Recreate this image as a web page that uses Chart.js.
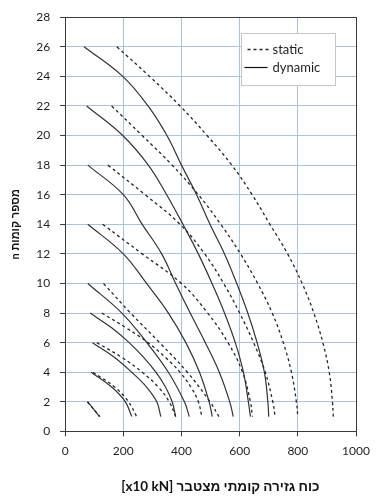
<!DOCTYPE html>
<html>
<head>
<meta charset="utf-8">
<script src="https://cdn.jsdelivr.net/npm/chart.js@4.4.1/dist/chart.umd.min.js"></script>
<style>
  html, body { margin: 0; padding: 0; background: #fff; }
</style>
</head>
<body>
<canvas id="shearChart" width="389" height="503"></canvas>
<script>
// story numbers (y) for each building height n
const levels2  = [2, 1];
const levels4  = [4, 3, 2, 1];
const levels6  = [6, 5, 4, 3, 2, 1];
const levels8  = [8, 7, 6, 5, 4, 3, 2, 1];
const levels10 = [10, 8, 6, 4, 2, 1];
const levels14 = [14, 12, 10, 8, 6, 4, 2, 1];
const levels18 = [18, 16, 14, 12, 10, 8, 6, 4, 2, 1];
const levels22 = [22, 20, 18, 16, 14, 12, 10, 8, 6, 4, 2, 1];
const levels26 = [26, 24, 22, 20, 18, 16, 14, 12, 10, 8, 6, 4, 2, 1];

// cumulative story shear [x10 kN], static analysis
const static2  = [76, 120];
const static4  = [96, 170, 218, 246];
const static6  = [109, 195, 265, 320, 358, 380];
const static8  = [126, 210, 285, 345, 395, 432, 458, 470];
const static10 = [132, 225, 325, 420, 498, 529];
const static14 = [129, 265, 400, 490, 560, 610, 637, 644];
const static18 = [147, 275, 395, 480, 545, 600, 648, 688, 714, 722];
const static22 = [160, 265, 368, 458, 535, 603, 662, 712, 750, 778, 795, 800];
const static26 = [178, 290, 395, 488, 573, 643, 704, 765, 815, 855, 886, 908, 919, 922];

// cumulative story shear [x10 kN], dynamic analysis
const dynamic2  = [78, 118];
const dynamic4  = [89, 160, 207, 229];
const dynamic6  = [94, 170, 229, 280, 315, 329];
const dynamic8  = [86, 160, 220, 270, 312, 345, 368, 380];
const dynamic10 = [78, 195, 281, 355, 410, 427];
const dynamic14 = [78, 200, 280, 355, 415, 462, 495, 506];
const dynamic18 = [78, 200, 265, 332, 380, 430, 482, 530, 566, 578];
const dynamic22 = [74, 198, 286, 349, 405, 458, 505, 548, 585, 613, 630, 637];
const dynamic26 = [65, 198, 285, 350, 400, 452, 498, 548, 590, 628, 660, 685, 697, 700];

const xTitle = 'כוח גזירה קומתי מצטבר [x10 kN]';
const yTitle = 'מספר קומות n';

const staticSeries  = [static2, static4, static6, static8, static10, static14, static18, static22, static26];
const dynamicSeries = [dynamic2, dynamic4, dynamic6, dynamic8, dynamic10, dynamic14, dynamic18, dynamic22, dynamic26];
const levelSets     = [levels2, levels4, levels6, levels8, levels10, levels14, levels18, levels22, levels26];

const gridColor = '#a9c1e3';
const axisColor = '#3a3a3a';
const fontFamily = 'Lato, "Liberation Sans", sans-serif';

function toPoints(xs, ys) {
    return xs.map((v, i) => ({ x: v, y: ys[i] }));
}

const datasets = [];
levelSets.forEach((levels, i) => {
    datasets.push({
        label: 'static',
        data: toPoints(staticSeries[i], levels),
        borderColor: '#262626',
        borderWidth: 1.3,
        borderDash: [3, 3],
        pointRadius: 0,
        tension: 0.4,
        showLine: true
    });
    datasets.push({
        label: 'dynamic',
        data: toPoints(dynamicSeries[i], levels),
        borderColor: '#333333',
        borderWidth: 1.2,
        pointRadius: 0,
        tension: 0.4,
        showLine: true
    });
});

// frame around the plot area (top and right edges are dark too)
const plotFrame = {
    id: 'plotFrame',
    afterDatasetsDraw(chart) {
        const { ctx, chartArea: a } = chart;
        ctx.save();
        ctx.strokeStyle = axisColor;
        ctx.lineWidth = 1;
        ctx.strokeRect(Math.round(a.left) + 0.5, Math.round(a.top) + 0.5,
                       Math.round(a.right - a.left), Math.round(a.bottom - a.top));
        ctx.restore();
    }
};

// legend box drawn inside the plot, upper right
const boxLegend = {
    id: 'boxLegend',
    afterDraw(chart) {
        const { ctx } = chart;
        const sx = chart.scales.x, sy = chart.scales.y;
        const left = Math.round(sx.getPixelForValue(605)) + 0.5;
        const right = Math.round(sx.getPixelForValue(928)) + 0.5;
        const top = Math.round(sy.getPixelForValue(26.9)) + 0.5;
        const bottom = Math.round(sy.getPixelForValue(23.4)) + 0.5;
        ctx.save();
        ctx.fillStyle = '#ffffff';
        ctx.fillRect(left, top, right - left, bottom - top);
        ctx.strokeStyle = '#c6c6c6';
        ctx.lineWidth = 1;
        ctx.strokeRect(left, top, right - left, bottom - top);

        const row1 = top + 16, row2 = top + 34;
        ctx.strokeStyle = '#262626';
        ctx.lineWidth = 1.3;
        ctx.setLineDash([3, 3]);
        ctx.beginPath();
        ctx.moveTo(left + 6, row1);
        ctx.lineTo(left + 27, row1);
        ctx.stroke();
        ctx.setLineDash([]);
        ctx.strokeStyle = '#111';
        ctx.lineWidth = 1.2;
        ctx.beginPath();
        ctx.moveTo(left + 3, row2);
        ctx.lineTo(left + 26, row2);
        ctx.stroke();

        ctx.fillStyle = '#1f1f1f';
        ctx.font = '13px ' + fontFamily;
        ctx.textAlign = 'left';
        ctx.textBaseline = 'middle';
        ctx.fillText('static', left + 31, row1);
        ctx.fillText('dynamic', left + 31, row2);
        ctx.restore();
    }
};

// the printed x title sits a little right of the plot centre
const xTitleShift = '\u00A0'.repeat(6);

const ctx = document.getElementById('shearChart').getContext('2d');
new Chart(ctx, {
    type: 'scatter',
    data: { datasets: datasets },
    options: {
        responsive: false,
        animation: false,
        layout: { padding: { top: 8, right: 33, bottom: 8, left: 9 } },
        plugins: {
            legend: { display: false },
            tooltip: { enabled: false }
        },
        scales: {
            x: {
                type: 'linear',
                min: 0,
                max: 1000,
                ticks: {
                    stepSize: 200,
                    color: '#1f1f1f',
                    padding: 8,
                    font: { family: fontFamily, size: 12 },
                    callback: (v) => String(v)
                },
                grid: { display: true, drawOnChartArea: true, color: gridColor, lineWidth: 1, tickColor: axisColor, tickLength: 5 },
                border: { color: axisColor },
                title: {
                    display: true,
                    text: xTitleShift + '\u202B' + xTitle + '\u202C',
                    color: '#111',
                    font: { family: fontFamily, size: 13.5, weight: 'bold' },
                    padding: { top: 12, bottom: 0 }
                }
            },
            y: {
                type: 'linear',
                min: 0,
                max: 28,
                ticks: { stepSize: 2, color: '#1f1f1f', padding: 10, font: { family: fontFamily, size: 12 } },
                grid: { display: true, drawOnChartArea: true, color: gridColor, lineWidth: 1, tickColor: axisColor, tickLength: 5 },
                border: { color: axisColor },
                title: {
                    display: true,
                    text: '\u202B' + yTitle + '\u202C',
                    color: '#111',
                    font: { family: fontFamily, size: 11, weight: 'bold' },
                    padding: { top: 0, bottom: 4 }
                }
            }
        }
    },
    plugins: [plotFrame, boxLegend]
});
</script>
</body>
</html>
